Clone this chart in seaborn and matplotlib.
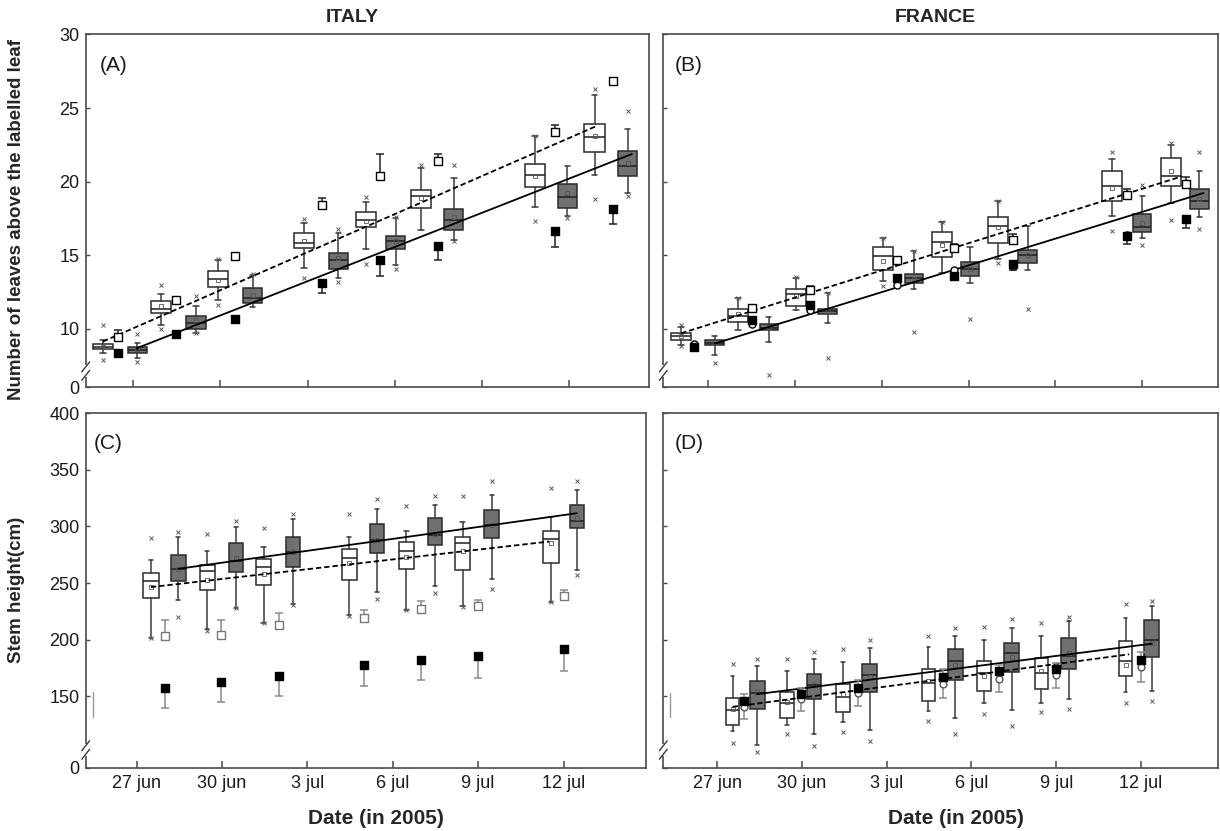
import matplotlib
matplotlib.use("Agg")
import matplotlib.pyplot as plt
import numpy as np
import pandas as pd
import seaborn as sns

sns.set_theme(style="white")
plt.rcParams['font.family'] = ['Liberation Sans', 'DejaVu Sans']

# ------------------------------------------------------------------ text / ticks
date_ticks = [0, 3, 6, 9, 12, 15]
date_labels = ['27 jun', '30 jun', '3 jul', '6 jul', '9 jul', '12 jul']
leaf_ticks = [10, 15, 20, 25, 30]
height_ticks = [150, 200, 250, 300, 350, 400]
leaf_floor = 6.05      # axis bottom (broken axis, labelled 0)
height_floor = 86.8

# ------------------------------------------------------------------ panel A : Italy, leaves
a_w_pos = [-1.04, 0.95, 2.92, 5.88, 8.01, 9.91, 13.82, 15.87]
a_w_q1 = [8.62, 11.07, 12.84, 15.49, 16.89, 18.21, 19.64, 22.02]
a_w_med = [8.80, 11.34, 13.38, 15.83, 17.37, 19.00, 20.45, 23.02]
a_w_q3 = [8.96, 11.86, 13.90, 16.51, 17.94, 19.43, 21.20, 23.95]
a_w_lo = [8.35, 10.27, 11.97, 14.13, 15.44, 16.73, 18.25, 20.48]
a_w_hi = [9.27, 12.38, 14.65, 17.20, 18.59, 20.90, 23.08, 25.92]
a_w_mean = [8.80, 11.52, 13.30, 15.95, 17.30, 18.90, 20.40, 23.10]
a_w_fliers = [[10.27, 7.89], [12.99, 10.00], [11.63, 14.75], [17.45, 13.45],
              [18.93, 14.40], [21.10], [23.13, 17.30], [26.30, 18.84]]
a_g_pos = [0.15, 2.16, 4.11, 7.06, 9.03, 11.03, 14.93, 17.01]
a_g_q1 = [8.35, 10.00, 11.79, 14.06, 15.44, 16.69, 18.21, 20.36]
a_g_med = [8.57, 10.43, 12.09, 14.69, 15.94, 17.37, 18.96, 21.09]
a_g_q3 = [8.80, 10.88, 12.77, 15.15, 16.33, 18.14, 19.84, 22.06]
a_g_lo = [8.01, 9.71, 11.48, 13.45, 14.35, 16.05, 17.64, 19.23]
a_g_hi = [9.03, 11.56, 13.67, 16.51, 17.53, 20.25, 21.09, 23.60]
a_g_mean = [8.60, 10.60, 12.30, 14.80, 16.00, 17.60, 19.20, 21.30]
a_g_fliers = [[9.66, 7.78], [12.20, 9.75], [13.75], [16.78, 13.18],
              [17.60, 14.08], [21.16, 15.99], [17.55], [24.83, 19.00]]
a_mk_pos = [-0.52, 1.49, 3.50, 6.51, 8.50, 10.50, 14.50, 16.50]
a_open = [9.43, 11.93, 14.92, 18.44, 20.36, 21.38, 23.38, 26.87]
a_open_err = [0.50, 0.0, 0.0, 0.45, 1.52, 0.50, 0.50, 0.0]
a_fill = [8.39, 9.66, 10.66, 13.15, 14.65, 15.65, 16.64, 18.14]
a_fill_err = [0.0, 0.0, 0.0, 0.72, 1.09, 1.00, 1.08, 1.00]
a_fit_w_x, a_fit_w_y = [-1.04, 15.97], [9.14, 23.81]
a_fit_g_x, a_fit_g_y = [0.12, 17.15], [8.68, 21.88]

# ------------------------------------------------------------------ panel B : France, leaves
b_w_pos = [-0.93, 1.03, 3.04, 6.04, 8.09, 10.02, 13.96, 15.99]
b_w_q1 = [9.25, 10.45, 11.52, 13.97, 14.88, 15.83, 18.66, 19.68]
b_w_med = [9.52, 10.88, 12.36, 14.97, 15.92, 16.96, 19.68, 20.41]
b_w_q3 = [9.70, 11.34, 12.72, 15.53, 16.58, 17.60, 20.75, 21.61]
b_w_lo = [8.91, 9.93, 11.29, 13.22, 13.79, 14.74, 17.64, 18.55]
b_w_hi = [10.16, 12.09, 13.45, 16.17, 17.23, 18.66, 21.56, 22.52]
b_w_mean = [9.50, 11.00, 12.20, 14.60, 15.70, 16.90, 19.60, 20.70]
b_w_fliers = [[10.25, 8.85], [12.10], [13.50], [16.20, 12.93], [17.25],
              [18.70, 14.47], [22.02, 16.62], [22.63, 17.37]]
b_g_pos = [0.23, 2.10, 4.13, 7.11, 9.05, 11.04, 15.00, 16.98]
b_g_q1 = [8.91, 9.93, 11.02, 13.11, 13.61, 14.47, 16.58, 18.16]
b_g_med = [9.07, 10.09, 11.18, 13.45, 14.06, 15.01, 16.92, 18.66]
b_g_q3 = [9.25, 10.34, 11.34, 13.74, 14.51, 15.33, 17.80, 19.50]
b_g_lo = [8.23, 9.14, 10.39, 12.70, 13.11, 14.01, 16.17, 17.60]
b_g_hi = [9.52, 10.79, 12.43, 15.26, 15.56, 16.96, 19.00, 20.75]
b_g_mean = [9.10, 10.15, 11.20, 13.40, 14.10, 15.00, 17.20, 18.80]
b_g_fliers = [[7.66], [6.87], [8.00, 12.45], [9.82, 15.30], [10.66], [11.34],
              [15.71, 19.76], [22.02, 16.78]]
b_mk_pos = [-0.49, 1.51, 3.51, 6.53, 8.50, 10.52, 14.49, 16.50]
b_open = [np.nan, 11.45, 12.65, 14.65, 15.49, 16.01, 19.07, 19.84]
b_open_err = [0.0, 0.15, 0.23, 0.20, 0.30, 0.45, 0.40, 0.45]
b_fill = [8.80, 10.61, 11.63, 13.45, 13.61, 14.40, 16.28, 17.46]
b_fill_err = [0.20, 0.20, 0.20, 0.25, 0.30, 0.38, 0.50, 0.60]
b_circ = [8.95, 10.34, 11.29, 12.99, 14.00, 14.25, 16.40, 17.46]
b_fit_w_x, b_fit_w_y = [-0.93, 16.37], [9.70, 20.36]
b_fit_g_x, b_fit_g_y = [0.23, 17.12], [9.00, 19.23]

# ------------------------------------------------------------------ panel C : Italy, stem height
c_w_pos = [0.50, 2.48, 4.46, 7.47, 9.48, 11.45, 14.56]
c_w_q1 = [236.7, 243.5, 248.5, 252.3, 262.0, 261.1, 267.9]
c_w_med = [251.4, 260.2, 264.0, 272.3, 278.5, 285.2, 289.0]
c_w_q3 = [259.1, 265.5, 271.4, 280.2, 286.7, 290.5, 295.8]
c_w_lo = [201.7, 209.7, 215.0, 221.4, 226.4, 229.4, 233.2]
c_w_hi = [270.5, 278.7, 281.7, 291.1, 295.8, 303.7, 308.7]
c_w_mean = [246.4, 252.9, 258.2, 267.6, 272.9, 277.9, 285.0]
c_w_fliers = [[289.9, 201.5], [292.9, 207.6], [298.7, 214.5], [311.1, 221.0],
              [318.4, 226.0], [326.7, 229.0], [333.7, 232.8]]
c_g_pos = [1.47, 3.48, 5.50, 8.45, 10.48, 12.47, 15.47]
c_g_q1 = [251.4, 259.6, 264.6, 276.7, 284.0, 289.6, 298.4]
c_g_med = [262.6, 269.9, 277.3, 287.6, 292.6, 301.4, 305.2]
c_g_q3 = [274.9, 285.5, 291.1, 302.3, 307.3, 314.6, 319.3]
c_g_lo = [234.7, 227.9, 231.1, 242.0, 247.3, 253.2, 261.7]
c_g_hi = [290.5, 299.9, 306.7, 315.5, 319.0, 327.8, 332.2]
c_g_mean = [262.6, 272.3, 277.3, 288.2, 292.9, 301.7, 307.3]
c_g_fliers = [[294.9, 220.0], [304.6, 227.5], [311.1, 230.8], [324.3, 235.5],
              [326.7, 241.4], [340.5, 244.9], [339.9, 257.3]]
c_mk_pos = [0.98, 2.98, 4.99, 8.00, 9.98, 11.99, 15.00]
c_open = [202.9, 204.4, 212.6, 219.1, 226.7, 229.7, 238.2]
c_open_err = [14.7, 12.6, 11.2, 7.3, 7.4, 5.0, 5.3]
c_fill = [157.3, 162.1, 167.9, 177.9, 182.3, 185.6, 192.0]
c_fill_err = [17.3, 17.1, 17.9, 18.8, 18.2, 19.4, 19.7]
c_fit_w_x, c_fit_w_y = [0.50, 14.50], [246.4, 286.7]
c_fit_g_x, c_fit_g_y = [1.47, 15.47], [262.6, 311.7]
c_bar_x, c_bar_y = [-1.54, -1.54], [131.2, 153.8]

# ------------------------------------------------------------------ panel D : France, stem height
d_w_pos = [0.55, 2.48, 4.45, 7.48, 9.44, 11.47, 14.45]
d_w_q1 = [124.4, 130.9, 136.2, 145.6, 154.4, 156.2, 167.6]
d_w_med = [137.7, 144.1, 149.4, 161.8, 170.9, 170.9, 180.9]
d_w_q3 = [148.5, 153.8, 160.6, 174.4, 180.9, 183.8, 198.8]
d_w_lo = [119.1, 124.4, 127.4, 136.8, 144.1, 144.4, 153.8]
d_w_hi = [167.6, 172.3, 180.3, 193.5, 200.0, 202.9, 219.1]
d_w_mean = [139.0, 145.0, 152.0, 163.0, 168.0, 172.0, 178.0]
d_w_fliers = [[178.8, 108.8], [183.2, 116.5], [192.0, 118.0], [203.2, 128.2],
              [211.1, 134.1], [214.7, 135.6], [231.1, 144.1]]
d_g_pos = [1.42, 3.43, 5.40, 8.43, 10.42, 12.44, 15.38]
d_g_q1 = [139.1, 147.9, 153.8, 164.1, 171.5, 174.4, 184.7]
d_g_med = [152.4, 160.3, 168.5, 180.9, 188.2, 185.6, 199.4]
d_g_q3 = [163.2, 169.4, 178.2, 191.4, 197.0, 201.4, 217.0]
d_g_lo = [106.8, 116.2, 120.0, 130.3, 137.7, 147.1, 154.7]
d_g_hi = [176.7, 183.2, 192.6, 202.9, 210.6, 216.4, 229.4]
d_g_mean = [154.0, 160.0, 167.0, 178.0, 185.0, 188.0, 197.0]
d_g_fliers = [[183.2, 100.3], [189.1, 106.2], [200.0, 110.4], [210.6, 116.9],
              [218.5, 123.8], [220.0, 139.1], [233.8, 145.9]]
d_mk_pos = [0.97, 2.97, 4.98, 7.98, 9.97, 11.98, 15.01]
d_fill = [145.6, 151.7, 157.6, 167.0, 172.0, 174.4, 182.3]
d_circ = [140.6, 147.1, 152.4, 161.2, 165.6, 168.5, 175.9]
d_circ_err = [11.0, 10.5, 11.5, 12.6, 11.7, 11.0, 13.0]
d_fit_w_x, d_fit_w_y = [0.55, 14.58], [140.6, 187.0]
d_fit_g_x, d_fit_g_y = [1.42, 15.38], [151.8, 196.4]
d_bar_x, d_bar_y = [-1.65, -1.65], [131.2, 152.4]

# ------------------------------------------------------------------ helpers
GRAY_FILL = '#707070'
EDGE = '#2a2a2a'


def draw_boxes(ax, pos, q1, med, q3, lo, hi, mean, fliers, face, width):
    stats = [dict(med=m, q1=a, q3=b, whislo=l, whishi=h, mean=mu, fliers=np.array(f))
             for m, a, b, l, h, mu, f in zip(med, q1, q3, lo, hi, mean, fliers)]
    ax.bxp(stats, positions=pos, widths=width, capwidths=width * 0.28,
           patch_artist=True, showmeans=True, manage_ticks=False,
           boxprops=dict(facecolor=face, edgecolor=EDGE, linewidth=1.1),
           medianprops=dict(color='#1e1e1e', linewidth=1.1),
           whiskerprops=dict(color='#3a3a3a', linewidth=1.1),
           capprops=dict(color='#3a3a3a', linewidth=1.1),
           flierprops=dict(marker='x', markersize=3.2, markeredgecolor='#5a5a5a',
                           markeredgewidth=0.7, linestyle='none'),
           meanprops=dict(marker='s', markersize=2.6, markerfacecolor='none',
                          markeredgecolor='#555555', markeredgewidth=0.6),
           zorder=2)


def fit_line(ax, x, y, dashed):
    sns.lineplot(x=x, y=y, ax=ax, color='black', linewidth=1.3, zorder=3)
    if dashed:
        ax.lines[-1].set_linestyle((0, (3.0, 1.6)))


def err(ax, x, y, lower, upper, color):
    x = np.asarray(x, float); y = np.asarray(y, float)
    lower = np.asarray(lower, float); upper = np.asarray(upper, float)
    ok = ~np.isnan(y)
    ax.errorbar(x[ok], y[ok], yerr=[lower[ok], upper[ok]], fmt='none', ecolor=color,
                elinewidth=1.1, capsize=3, capthick=1.1, zorder=3)


def marks(ax, x, y, marker, face, edge, size=30, lw=1.0):
    sns.scatterplot(x=x, y=y, ax=ax, marker=marker, s=size, color=face,
                    edgecolor=edge, linewidth=lw, zorder=4, legend=False)


def style(ax, xlim, ylim, yticks, ylabels, show_xlabels, brk):
    ax.set_xlim(*xlim)
    ax.set_ylim(*ylim)
    ax.set_facecolor('white')
    for s in ax.spines.values():
        s.set_visible(True)
        s.set_color('#4a4a4a')
        s.set_linewidth(1.2)
    ax.set_xticks(date_ticks)
    ax.set_xticklabels(date_labels if show_xlabels else [])
    ax.set_yticks(yticks)
    ax.set_yticklabels(ylabels)
    ax.tick_params(axis='both', direction='in', colors='#4a4a4a', labelcolor='#1a1a1a',
                   labelsize=13, left=True, bottom=True)
    ax.tick_params(axis='x', length=5, width=1.1, pad=5.5)
    ax.tick_params(axis='y', length=2.8, width=1.0, pad=4.5)
    ax.grid(False)
    ax.set_xlabel('')
    ax.set_ylabel('')
    # broken-axis mark on the left spine
    tr = ax.transAxes
    ax.plot([0, 0], [brk - 0.018, brk + 0.018], transform=tr, color='white',
            lw=3, clip_on=False, zorder=6, solid_capstyle='butt')
    for dy in (-0.012, 0.012):
        ax.plot([-0.007, 0.007], [brk + dy - 0.014, brk + dy + 0.014], transform=tr,
                color='#3a3a3a', lw=1.0, clip_on=False, zorder=7)


# ------------------------------------------------------------------ figure
W, H = 1220, 831
fig = plt.figure(figsize=(W / 100, H / 100), dpi=100)


def add_ax(l, r, t, b):
    return fig.add_axes([l / W, 1 - b / H, (r - l) / W, (b - t) / H])


axA = add_ax(85.7, 648.7, 34.5, 387)
axB = add_ax(663.3, 1218, 34.5, 387)
axC = add_ax(85.7, 645.5, 413.3, 767.7)
axD = add_ax(663.3, 1218, 413.3, 767.7)

leaf_yt = [leaf_floor] + leaf_ticks
leaf_yl = ['0'] + [str(v) for v in leaf_ticks]
h_yt = [height_floor] + height_ticks
h_yl = ['0'] + [str(v) for v in height_ticks]

# --- A
draw_boxes(axA, a_w_pos, a_w_q1, a_w_med, a_w_q3, a_w_lo, a_w_hi, a_w_mean, a_w_fliers, 'white', 0.70)
draw_boxes(axA, a_g_pos, a_g_q1, a_g_med, a_g_q3, a_g_lo, a_g_hi, a_g_mean, a_g_fliers, GRAY_FILL, 0.66)
fit_line(axA, a_fit_w_x, a_fit_w_y, True)
fit_line(axA, a_fit_g_x, a_fit_g_y, False)
err(axA, a_mk_pos, a_open, np.zeros(len(a_open)), a_open_err, '#222222')
err(axA, a_mk_pos, a_fill, a_fill_err, np.zeros(len(a_fill)), '#222222')
marks(axA, a_mk_pos, a_open, 's', 'white', 'black')
marks(axA, a_mk_pos, a_fill, 's', 'black', 'black')
style(axA, (-1.63, 17.73), (leaf_floor, 30), leaf_yt, leaf_yl, False, 0.045)

# --- B
draw_boxes(axB, b_w_pos, b_w_q1, b_w_med, b_w_q3, b_w_lo, b_w_hi, b_w_mean, b_w_fliers, 'white', 0.68)
draw_boxes(axB, b_g_pos, b_g_q1, b_g_med, b_g_q3, b_g_lo, b_g_hi, b_g_mean, b_g_fliers, GRAY_FILL, 0.64)
fit_line(axB, b_fit_w_x, b_fit_w_y, True)
fit_line(axB, b_fit_g_x, b_fit_g_y, False)
err(axB, b_mk_pos, b_open, np.zeros(len(b_open)), b_open_err, '#222222')
err(axB, b_mk_pos, b_fill, b_fill_err, np.zeros(len(b_fill)), '#222222')
marks(axB, b_mk_pos, b_circ, 'o', 'white', 'black', size=26)
marks(axB, b_mk_pos, b_fill, 's', 'black', 'black', size=26)
marks(axB, b_mk_pos, b_open, 's', 'white', 'black', size=26)
style(axB, (-1.545, 17.62), (leaf_floor, 30), leaf_yt, [''] * len(leaf_yt), False, 0.045)

# --- C
draw_boxes(axC, c_w_pos, c_w_q1, c_w_med, c_w_q3, c_w_lo, c_w_hi, c_w_mean, c_w_fliers, 'white', 0.54)
draw_boxes(axC, c_g_pos, c_g_q1, c_g_med, c_g_q3, c_g_lo, c_g_hi, c_g_mean, c_g_fliers, GRAY_FILL, 0.50)
fit_line(axC, c_fit_w_x, c_fit_w_y, True)
fit_line(axC, c_fit_g_x, c_fit_g_y, False)
err(axC, c_mk_pos, c_open, np.zeros(len(c_open)), c_open_err, '#8a8a8a')
err(axC, c_mk_pos, c_fill, c_fill_err, np.zeros(len(c_fill)), '#8a8a8a')
marks(axC, c_mk_pos, c_open, 's', 'white', '#777777')
marks(axC, c_mk_pos, c_fill, 's', 'black', 'black')
sns.lineplot(x=c_bar_x, y=c_bar_y, ax=axC, color='#9a9a9a', linewidth=1.0, sort=False, estimator=None)
style(axC, (-1.79, 17.88), (height_floor, 400), h_yt, h_yl, True, 0.05)

# --- D
draw_boxes(axD, d_w_pos, d_w_q1, d_w_med, d_w_q3, d_w_lo, d_w_hi, d_w_mean, d_w_fliers, 'white', 0.48)
draw_boxes(axD, d_g_pos, d_g_q1, d_g_med, d_g_q3, d_g_lo, d_g_hi, d_g_mean, d_g_fliers, GRAY_FILL, 0.52)
fit_line(axD, d_fit_w_x, d_fit_w_y, True)
fit_line(axD, d_fit_g_x, d_fit_g_y, False)
err(axD, d_mk_pos, d_circ, d_circ_err, d_circ_err, '#8a8a8a')
marks(axD, d_mk_pos, d_circ, 'o', 'white', '#555555', size=24)
marks(axD, d_mk_pos, d_fill, 's', 'black', 'black', size=26)
sns.lineplot(x=d_bar_x, y=d_bar_y, ax=axD, color='#9a9a9a', linewidth=1.0, sort=False, estimator=None)
style(axD, (-1.9, 17.72), (height_floor, 400), h_yt, [''] * len(h_yt), True, 0.05)

# panel letters
for ax, lab, xf, yf in [(axA, '(A)', 0.025, 0.913), (axB, '(B)', 0.02, 0.913),
                        (axC, '(C)', 0.015, 0.916), (axD, '(D)', 0.02, 0.916)]:
    ax.text(xf, yf, lab, transform=ax.transAxes, fontsize=15, ha='left', va='center', color='#1a1a1a')

# titles and axis labels
fig.text(352 / W, 1 - 17 / H, 'ITALY', ha='center', va='center', fontsize=14, fontweight='bold')
fig.text(935 / W, 1 - 17 / H, 'FRANCE', ha='center', va='center', fontsize=14, fontweight='bold')
fig.text(17 / W, 1 - 219 / H, 'Number of leaves above the labelled leaf', rotation=90,
         ha='center', va='center', fontsize=13.5, fontweight='bold')
fig.text(17 / W, 1 - 590 / H, 'Stem height(cm)', rotation=90,
         ha='center', va='center', fontsize=13.5, fontweight='bold')
fig.text(376 / W, 1 - 818 / H, 'Date (in 2005)', ha='center', va='center', fontsize=15, fontweight='bold')
fig.text(956 / W, 1 - 818 / H, 'Date (in 2005)', ha='center', va='center', fontsize=15, fontweight='bold')

fig.savefig('out.png', dpi=100, facecolor='white')
